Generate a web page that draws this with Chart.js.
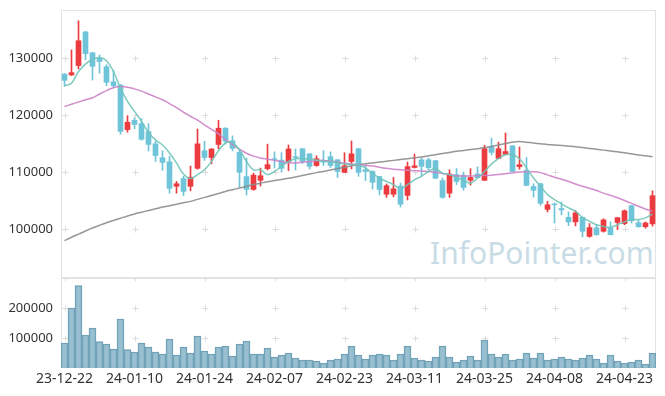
<!DOCTYPE html>
<html>
<head>
<meta charset="utf-8">
<script src="https://cdn.jsdelivr.net/npm/chart.js@4.4.1/dist/chart.umd.min.js"></script>
<style>
  html, body { margin: 0; padding: 0; background: #fff; }
  #wrap { position: relative; width: 665px; height: 396px; }
  #mark { position: absolute; left: 430px; top: 232px; font: 30px "Noto Sans", sans-serif; color: #c9dce6; white-space: nowrap; }
  #price { position: absolute; left: 0; top: 0; }
  #vol { position: absolute; left: 0; top: 278px; }
</style>
</head>
<body>
<div id="wrap">
  <div id="mark">InfoPointer.com</div>
  <canvas id="price" width="665" height="278"></canvas>
  <canvas id="vol" width="665" height="118"></canvas>
</div>
<script>
// trading days
const dates = [
  '23-12-22','23-12-26','23-12-27','23-12-28','24-01-02','24-01-03','24-01-04','24-01-05','24-01-08','24-01-09',
  '24-01-10','24-01-11','24-01-12','24-01-15','24-01-16','24-01-17','24-01-18','24-01-19','24-01-22','24-01-23',
  '24-01-24','24-01-25','24-01-26','24-01-29','24-01-30','24-01-31','24-02-01','24-02-02','24-02-05','24-02-06',
  '24-02-07','24-02-08','24-02-13','24-02-14','24-02-15','24-02-16','24-02-19','24-02-20','24-02-21','24-02-22',
  '24-02-23','24-02-26','24-02-27','24-02-28','24-02-29','24-03-04','24-03-05','24-03-06','24-03-07','24-03-08',
  '24-03-11','24-03-12','24-03-13','24-03-14','24-03-15','24-03-18','24-03-19','24-03-20','24-03-21','24-03-22',
  '24-03-25','24-03-26','24-03-27','24-03-28','24-03-29','24-04-01','24-04-02','24-04-03','24-04-04','24-04-05',
  '24-04-08','24-04-09','24-04-11','24-04-12','24-04-15','24-04-16','24-04-17','24-04-18','24-04-19','24-04-22',
  '24-04-23','24-04-24','24-04-25','24-04-26','24-04-29'
];

const opens = [
  127200,127050,128700,134600,130950,129950,128500,125850,125250,117450,
  119100,118500,117100,114950,112500,111800,107500,108850,107500,110650,
  113750,112550,114850,117700,115500,113450,109200,106950,108550,110600,
  112350,112100,111850,112700,114100,113200,111150,112050,112700,112150,
  109950,111850,114100,110400,110100,109200,106100,106100,107550,105900,
  110800,112150,112150,112000,108500,106300,109550,109450,108550,109650,
  108550,114450,112400,113100,114600,110950,110300,107450,107950,103450,
  104400,103600,102050,101250,102050,98700,100200,99600,100200,101150,
  100950,104100,101100,100400,100900
];
const highs = [
  127300,131450,136550,134700,130950,130550,128850,127850,125400,119900,
  119550,119400,118500,115400,113750,112750,108350,109250,111050,117550,
  115400,114100,119100,117800,116350,113900,112450,109800,110700,114900,
  113550,113400,114750,114050,114150,113250,112850,113750,113550,112200,
  113400,115450,114150,111000,110250,109250,107900,109050,108050,111750,
  113150,112450,112450,112050,108950,110400,110600,110000,110600,110900,
  114700,115950,115250,116850,114650,114400,112550,107950,108050,104850,
  104550,104750,103000,103250,102100,100950,100750,101800,101250,102000,
  103350,104150,101500,101250,106700
];
const lows = [
  125050,126950,128100,129700,126150,127350,125150,124850,116650,117000,
  117600,115600,113700,111850,110300,106300,106300,105850,106700,110500,
  112050,111450,114100,114900,113700,107350,105950,106800,107550,110350,
  110700,110000,110250,110350,111500,110550,111000,111150,110800,109050,
  109900,110550,109250,108500,107000,106000,105550,105650,103850,105100,
  110700,109350,110400,108900,105400,105550,107800,106800,107700,108950,
  108500,113000,112350,113050,110050,110500,107600,105600,104150,103000,
  101050,102500,100600,100550,98600,98550,98900,99450,98950,99900,
  100750,101050,100300,100150,100500
];
const closes = [
  126100,127450,133050,130800,128550,129400,125750,125150,117150,118750,
  118350,115750,114850,112900,111700,107150,107950,106600,109100,114950,
  112550,114050,117700,115400,114150,109950,106950,109450,109350,111300,
  112200,110650,114050,112550,111850,111000,112350,111750,111150,110100,
  111100,113200,109950,110100,108200,106950,107600,107050,104350,110950,
  111100,111000,110750,108900,105550,109650,108350,107300,109050,109000,
  114100,113450,114100,113600,110100,111300,107650,106800,104500,104250,
  104250,103350,101250,102850,99600,100250,99000,101600,99000,102000,
  103200,101450,100400,101050,105850
];

// moving averages as drawn
const ma5 = [
  125150,125600,127650,128950,129800,130100,129550,127650,124750,122400,
  120650,118900,116950,115650,114750,113350,111600,109650,108850,109550,
  110400,111850,113750,115100,115100,113900,111850,110400,110400,109550,
  110100,111000,111850,112350,112350,112300,112100,111850,111850,111600,
  111400,111300,111300,110700,109800,108950,108350,107800,107100,107800,
  108650,109250,110100,110600,109800,109550,109050,108550,108050,108950,
  110100,111400,112350,113050,113050,112350,110700,108950,107500,106050,
  105150,104400,103700,103100,102050,101350,100750,100450,100300,100750,
  101250,101650,101650,101950,102650
];
const ma20 = [
  121500,121900,122300,122700,123050,123700,124300,124800,125000,124900,
  124600,124200,123700,123200,122700,122000,121300,120500,119800,119100,
  118300,117500,116700,115700,114800,114000,113300,112800,112450,112250,
  112050,111850,111650,111600,111700,111850,112000,112050,111950,111750,
  111550,111400,111300,111200,111050,110850,110650,110500,110400,110300,
  110250,110200,110100,109950,109750,109550,109350,109300,109300,109350,
  109400,109450,109550,109700,109850,110000,110050,110050,109900,109500,
  109100,108750,108350,107900,107500,107150,106750,106300,105900,105500,
  105000,104500,104000,103500,103100
];
const ma60 = [
  97950,98550,99100,99650,100175,100650,101100,101500,101900,102300,
  102650,102950,103250,103550,103850,104100,104350,104600,104850,105200,
  105550,105900,106250,106600,106900,107200,107500,107800,108050,108300,
  108500,108700,108900,109150,109400,109650,109900,110100,110350,110600,
  110850,111100,111300,111450,111600,111750,111900,112050,112200,112350,
  112500,112650,112850,113050,113250,113450,113650,113800,113950,114100,
  114300,114500,114750,115000,115250,115350,115250,115100,114980,114850,
  114750,114650,114550,114450,114300,114150,114000,113850,113700,113550,
  113400,113200,113000,112850,112700
];

const volumes = [
  83300,200000,274400,110000,133300,87800,80000,63300,163300,61100,
  53300,83300,70000,53300,46700,96700,43300,70000,50000,106700,
  56700,46700,70000,73300,40000,80000,90000,46700,46700,66700,
  36700,43300,50000,33300,26700,26700,23300,16700,26700,30000,
  46700,73300,43300,30000,43300,46700,43300,26700,46700,73300,
  33300,26700,23300,36700,73300,36700,20000,26700,40000,26700,
  93300,46700,36700,46700,26700,30000,50000,33300,50000,26700,
  30000,36700,30000,26700,33300,43300,30000,16700,43300,23300,
  16700,20000,26700,13300,50000
];

const priceTicks = [100000, 110000, 120000, 130000];
const volTicks = [100000, 200000, 300000];

const UP = '#ec3b3f', DOWN = '#6fc4da';
const FONT = '"Noto Sans", sans-serif';
const candleColors = closes.map((c, i) => c >= opens[i] ? UP : DOWN);

// fixed axis box, no label overhang padding
const fixY = s => { s.width = 61; s.paddingTop = 0; s.paddingBottom = 0; };

// frame and "+" grid marks
const framePlugin = {
  id: 'frame',
  beforeDatasetsDraw(chart, args, opts) {
    const { ctx, chartArea: a, scales } = chart;
    ctx.save();
    ctx.strokeStyle = '#e3e3e3';
    ctx.lineWidth = 1;
    ctx.strokeRect(Math.round(a.left) + 0.5, Math.round(a.top) + 0.5,
      Math.round(a.right - a.left) - 1, Math.round(a.bottom - a.top) - 1);
    ctx.strokeStyle = '#dcdcdc';
    ctx.beginPath();
    for (let i = 0; i < dates.length; i += 10) {
      const x = Math.round(scales.x.getPixelForValue(i)) + 0.5;
      (opts.yMarks || []).forEach(v => {
        const y = Math.round(scales.y.getPixelForValue(v)) + 0.5;
        ctx.moveTo(x - 3, y); ctx.lineTo(x + 3, y);
        ctx.moveTo(x, y - 3); ctx.lineTo(x, y + 3);
      });
    }
    ctx.stroke();
    ctx.restore();
  }
};

const maLine = (data, color) => ({
  type: 'line', data, borderColor: color, borderWidth: 1.5,
  pointRadius: 0, tension: 0.4, fill: false, order: 0
});

new Chart(document.getElementById('price'), {
  type: 'bar',
  data: {
    labels: dates,
    datasets: [
      maLine(ma5, 'rgba(112,196,184,0.9)'),
      maLine(ma20, 'rgba(204,130,200,0.9)'),
      maLine(ma60, 'rgba(140,140,140,0.9)'),
      {
        data: lows.map((l, i) => [l, highs[i]]),
        backgroundColor: candleColors, barThickness: 1, grouped: false, order: 2
      },
      {
        data: opens.map((o, i) => [o, closes[i]]),
        backgroundColor: candleColors, barThickness: 5, grouped: false, order: 1
      }
    ]
  },
  options: {
    responsive: false,
    animation: false,
    layout: { padding: { top: 10, right: 9, left: 0, bottom: 0 } },
    plugins: { legend: { display: false }, tooltip: { enabled: false }, frame: { yMarks: priceTicks } },
    scales: {
      x: { display: false, offset: true },
      y: {
        min: 91400, max: 138450,
        afterFit: fixY,
        afterBuildTicks: s => { s.ticks = priceTicks.map(v => ({ value: v })); },
        grid: { display: false, drawTicks: false },
        border: { display: false },
        ticks: { color: '#333', font: { family: FONT, size: 13 }, padding: 8, callback: v => String(v) }
      }
    }
  },
  plugins: [framePlugin]
});

new Chart(document.getElementById('vol'), {
  type: 'bar',
  data: {
    labels: dates,
    datasets: [{
      data: volumes,
      backgroundColor: 'rgba(128,176,196,0.8)',
      borderColor: '#6f9fb5',
      borderWidth: 1,
      barPercentage: 1,
      categoryPercentage: 1
    }]
  },
  options: {
    responsive: false,
    animation: false,
    layout: { padding: { top: 0, right: 9, left: 0, bottom: 0 } },
    plugins: { legend: { display: false }, tooltip: { enabled: false }, frame: { yMarks: volTicks } },
    scales: {
      x: {
        offset: true,
        afterFit: s => { s.height = 28; s.paddingLeft = 0; s.paddingRight = 0; },
        grid: { display: false, drawTicks: false },
        border: { display: false },
        ticks: {
          autoSkip: false, maxRotation: 0, padding: 3,
          color: '#333', font: { family: FONT, size: 14 },
          callback: (v, i) => i % 10 === 0 ? dates[i] : ''
        }
      },
      y: {
        min: 0, max: 300000,
        afterFit: fixY,
        afterBuildTicks: s => { s.ticks = [100000, 200000].map(v => ({ value: v })); },
        grid: { display: false, drawTicks: false },
        border: { display: false },
        ticks: { color: '#333', font: { family: FONT, size: 13 }, padding: 8, callback: v => String(v) }
      }
    }
  },
  plugins: [framePlugin]
});
</script>
</body>
</html>
